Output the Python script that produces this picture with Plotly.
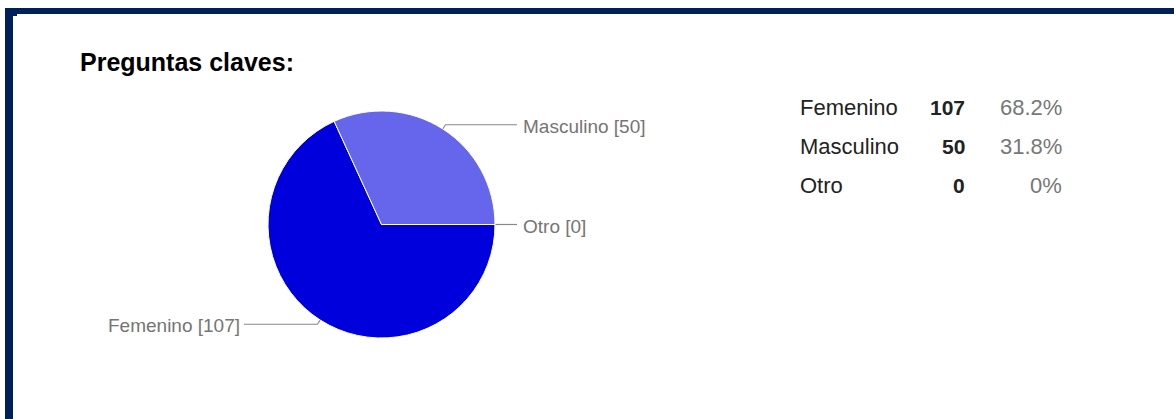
import math
import plotly.graph_objects as go

# Survey answers
categories = ["Femenino", "Masculino", "Otro"]
counts = [107, 50, 0]
slice_colors = ["#0000dc", "#6666ec", "#dc3912"]
title_text = "Preguntas claves:"

# Canvas and pie geometry (pixels)
W, H = 1174, 419
cx, cy, r = 381.5, 224.5, 113.5
FONT = "Arial, 'Liberation Sans', sans-serif"

total = sum(counts)

fig = go.Figure()

# Pie: first slice starts at 3 o'clock and runs clockwise
fig.add_trace(go.Pie(
    labels=categories,
    values=counts,
    sort=False,
    direction="clockwise",
    rotation=90,
    marker=dict(colors=slice_colors, line=dict(color="white", width=1)),
    textinfo="none",
    hoverinfo="label+value+percent",
    showlegend=False,
    domain=dict(x=[(cx - r) / W, (cx + r) / W],
                y=[1 - (cy + r) / H, 1 - (cy - r) / H]),
))

# Leader lines and outside labels, placed from each slice's mid-angle
right_col = cx + r + 22
left_col = cx - r - 24
lx, ly = [], []
annotations = []
cum = 0
for name, v in zip(categories, counts):
    frac = (cum + v / 2) / total
    cum += v
    theta = math.radians(-360 * frac)
    ex, ey = cx + r * math.cos(theta), cy - r * math.sin(theta)
    bx, by = cx + (r + 5) * math.cos(theta), cy - (r + 5) * math.sin(theta)
    right = math.cos(theta) >= 0
    colx = right_col if right else left_col
    lx += [ex, bx, colx, None]
    ly += [ey, by, by, None]
    annotations.append(dict(
        x=colx + 4 if right else colx - 2, y=by + 1.5, xref="x", yref="y",
        text=f"{name} [{v}]", showarrow=False,
        xanchor="left" if right else "right", yanchor="middle",
        font=dict(family=FONT, size=19, color="#757575"),
    ))

fig.add_trace(go.Scatter(
    x=lx, y=ly, mode="lines",
    line=dict(color="#888888", width=1.2),
    hoverinfo="skip", showlegend=False,
))

# Summary table on the right
row_y = [107, 146, 185]
for name, v, y in zip(categories, counts, row_y):
    pct = round(100 * v / total, 1)
    pct_txt = (f"{pct:.1f}".rstrip("0").rstrip(".") if pct else "0") + "%"
    annotations.append(dict(x=798, y=y, xref="x", yref="y", text=name,
                            showarrow=False, xanchor="left", yanchor="middle",
                            font=dict(family=FONT, size=22, color="#222222")))
    annotations.append(dict(x=967, y=y, xref="x", yref="y", text=f"<b>{v}</b>",
                            showarrow=False, xanchor="right", yanchor="middle",
                            font=dict(family=FONT, size=21, color="#222222")))
    annotations.append(dict(x=1064, y=y, xref="x", yref="y", text=pct_txt,
                            showarrow=False, xanchor="right", yanchor="middle",
                            font=dict(family=FONT, size=22, color="#777777")))

# Title
annotations.append(dict(x=78, y=62, xref="x", yref="y", text=f"<b>{title_text}</b>",
                        showarrow=False, xanchor="left", yanchor="middle",
                        font=dict(family=FONT, size=25, color="#000000")))

# Navy frame along the top and left edges
frame = "#00205b"
shapes = [
    dict(type="rect", xref="x", yref="y", x0=5, x1=W, y0=8, y1=14,
         fillcolor=frame, line=dict(width=0), layer="above"),
    dict(type="rect", xref="x", yref="y", x0=5, x1=13, y0=8, y1=H,
         fillcolor=frame, line=dict(width=0), layer="above"),
    dict(type="rect", xref="x", yref="y", x0=13, x1=17, y0=14, y1=16,
         fillcolor=frame, line=dict(width=0), layer="above"),
]

fig.update_layout(
    width=W, height=H, autosize=False,
    margin=dict(l=0, r=0, t=0, b=0, pad=0),
    paper_bgcolor="white", plot_bgcolor="white",
    xaxis=dict(range=[0, W], visible=False, fixedrange=True, domain=[0, 1]),
    yaxis=dict(range=[H, 0], visible=False, fixedrange=True, domain=[0, 1]),
    annotations=annotations,
    shapes=shapes,
    showlegend=False,
)

fig.write_html("out.html")
